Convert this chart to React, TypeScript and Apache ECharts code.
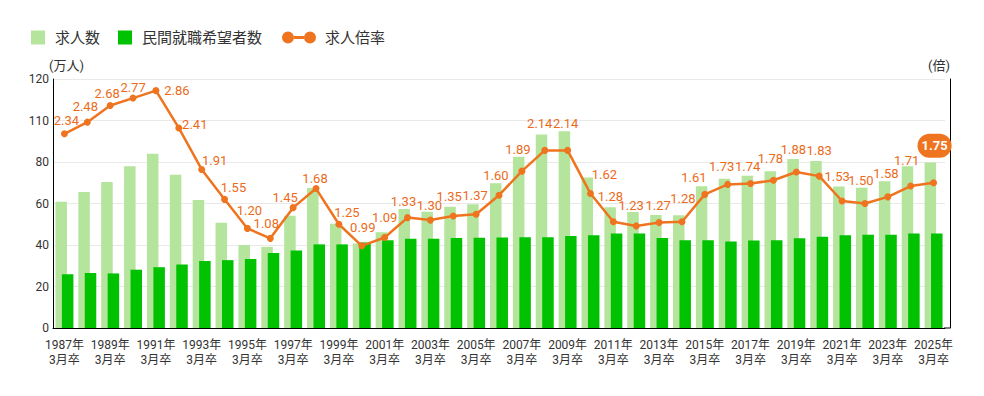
import React, { useEffect, useRef } from 'react';
import * as echarts from 'echarts';

const years = [
  1987, 1988, 1989, 1990, 1991, 1992, 1993, 1994, 1995, 1996, 1997, 1998, 1999,
  2000, 2001, 2002, 2003, 2004, 2005, 2006, 2007, 2008, 2009, 2010, 2011, 2012,
  2013, 2014, 2015, 2016, 2017, 2018, 2019, 2020, 2021, 2022, 2023, 2024, 2025,
];
const categories = years.map((y) => `${y}年\n3月卒`);

// 求人数 (万人)
const jobOffers = [
  60.8, 65.6, 70.4, 77.9, 84.0, 73.8, 61.7, 50.7, 40.0, 39.1, 54.1, 67.5, 50.3,
  40.7, 46.1, 57.3, 56.0, 58.4, 59.6, 69.8, 82.5, 93.3, 94.8, 72.5, 58.2, 55.9,
  54.4, 54.3, 68.3, 71.9, 73.4, 75.5, 81.4, 80.5, 68.2, 67.6, 70.7, 77.9, 79.7,
];
// 民間就職希望者数 (万人)
const jobSeekers = [
  25.9, 26.5, 26.3, 28.1, 29.3, 30.6, 32.3, 32.7, 33.2, 36.2, 37.3, 40.3, 40.3,
  41.2, 42.3, 43.0, 43.0, 43.4, 43.5, 43.6, 43.7, 43.7, 44.3, 44.7, 45.6, 45.5,
  43.4, 42.3, 42.3, 41.7, 42.2, 42.3, 43.2, 44.0, 44.7, 45.0, 44.9, 45.6, 45.5,
];
// 求人倍率 (倍)
const ratio = [
  2.34, 2.48, 2.68, 2.77, 2.86, 2.41, 1.91, 1.55, 1.2, 1.08, 1.45, 1.68, 1.25,
  0.99, 1.09, 1.33, 1.3, 1.35, 1.37, 1.6, 1.89, 2.14, 2.14, 1.62, 1.28, 1.23,
  1.27, 1.28, 1.61, 1.73, 1.74, 1.78, 1.88, 1.83, 1.53, 1.5, 1.58, 1.71, 1.75,
];

const yTickLabels = ['0', '20', '40', '60', '80', '110', '120'];

// label placement (offset of label centre from its point, px)
const labelDx = [
  2, -2, -3, 0, 21, 16, 13, 9, 2, -4, -8, -1, 8,
  1, 0, -4, -1, -4, -1, -3, -4, -5, -2, 14, -3, -5,
  -1, 1, -11, -6, -3, -3, -3, 0, -5, -4, -2, -4, 1,
];
const labelDy = [
  -13, -16, -12, -11, 0, -3, -9, -12, -18, -15, -10, -10, -12,
  -18, -20, -16, -15, -19, -19, -20, -22, -27, -27, -19, -25, -20,
  -17, -23, -17, -18, -17, -22, -22, -26, -25, -23, -23, -26, -37,
];

const LIGHT = '#b5e49c';
const DARK = '#00c200';
const ORANGE = '#ef741f';
const FONT = 'Roboto, "Noto Sans CJK JP", sans-serif';

export default function App() {
  const ref = useRef<HTMLDivElement>(null);
  useEffect(() => {
    const chart = echarts.init(ref.current!, null, { renderer: 'svg' });
    const last = ratio.length - 1;
    chart.setOption({
      animation: false,
      textStyle: { fontFamily: FONT },
      legend: [
        {
          left: 31,
          top: 30,
          padding: 0,
          itemWidth: 14,
          itemHeight: 14,
          itemGap: 18,
          data: ['求人数', '民間就職希望者数'],
          icon: 'rect',
          textStyle: { fontSize: 15, color: '#333', padding: [0, 0, 0, 5], fontFamily: FONT },
        },
        {
          left: 282,
          top: 30,
          padding: 0,
          itemWidth: 34,
          itemHeight: 12,
          data: [
            {
              name: '求人倍率',
              icon: 'path://M0,6a6,6 0 1,0 12,0a6,6 0 1,0 -12,0Z M22,6a6,6 0 1,0 12,0a6,6 0 1,0 -12,0Z M12,4.5L22,4.5L22,7.5L12,7.5Z',
            },
          ],
          textStyle: { fontSize: 15, color: '#333', padding: [0, 0, 0, 4], fontFamily: FONT },
        },
      ],
      grid: { left: 53, right: 39, top: 79, bottom: 68, containLabel: false },
      graphic: [
        {
          type: 'line',
          shape: { x1: 944, y1: 328, x2: 950, y2: 328 },
          style: { stroke: '#000', lineWidth: 1 },
          silent: true,
        },
      ],
      xAxis: {
        type: 'category',
        data: categories,
        axisLine: { lineStyle: { color: '#000', width: 1 } },
        axisTick: { show: false },
        axisLabel: {
          interval: 1,
          fontSize: 12,
          lineHeight: 15,
          color: '#333',
          margin: 9,
          fontFamily: FONT,
        },
      },
      yAxis: [
        {
          type: 'value',
          min: 0,
          max: 120,
          interval: 20,
          name: '(万人)',
          nameLocation: 'end',
          nameGap: 7,
          nameTextStyle: { align: 'left', fontSize: 13, color: '#333', padding: [0, 0, 0, -4], fontFamily: FONT },
          axisLine: { show: true, lineStyle: { color: '#000', width: 1 } },
          axisTick: { show: false },
          axisLabel: {
            fontSize: 12,
            color: '#333',
            margin: 4,
            fontFamily: FONT,
            formatter: (v: number) => yTickLabels[Math.round(v / 20)] ?? '',
          },
          splitLine: { lineStyle: { color: '#e9e9e9', width: 1 } },
        },
        {
          type: 'value',
          min: 0,
          max: 3,
          interval: 0.5,
          offset: 5,
          name: '(倍)',
          nameLocation: 'end',
          nameGap: 7,
          nameTextStyle: { align: 'right', fontSize: 13, color: '#333', fontFamily: FONT },
          axisLine: { show: true, lineStyle: { color: '#000', width: 1 } },
          axisTick: { show: false },
          axisLabel: { show: false },
          splitLine: { show: false },
        },
      ],
      series: [
        {
          name: '求人数',
          type: 'bar',
          data: jobOffers,
          barWidth: 11.5,
          barGap: '-44%',
          itemStyle: { color: LIGHT },
        },
        {
          name: '民間就職希望者数',
          type: 'bar',
          data: jobSeekers,
          barWidth: 11.5,
          barGap: '-44%',
          itemStyle: { color: DARK },
        },
        {
          name: '求人倍率',
          type: 'line',
          yAxisIndex: 1,
          symbol: 'circle',
          symbolSize: 7,
          lineStyle: { color: ORANGE, width: 2.5 },
          itemStyle: { color: ORANGE },
          data: ratio.map((v, i) => ({
            value: v,
            label:
              i === last
                ? {
                    show: true,
                    position: 'inside',
                    offset: [labelDx[i], labelDy[i]],
                    formatter: (p: any) => Number(p.value).toFixed(2),
                    color: '#fff',
                    fontSize: 13,
                    fontWeight: 'bold',
                    backgroundColor: ORANGE,
                    borderRadius: 12,
                    padding: [6, 4, 5, 4],
                    fontFamily: FONT,
                  }
                : {
                    show: true,
                    position: 'inside',
                    offset: [labelDx[i], labelDy[i]],
                    formatter: (p: any) => Number(p.value).toFixed(2),
                    color: '#ec6b1a',
                    fontSize: 13,
                    fontFamily: FONT,
                  },
          })),
          z: 5,
        },
      ],
    });
    return () => chart.dispose();
  }, []);
  return (
    <div
      ref={ref}
      style={{ width: 984, height: 396, position: 'absolute', left: 0, top: 0 }}
    />
  );
}
